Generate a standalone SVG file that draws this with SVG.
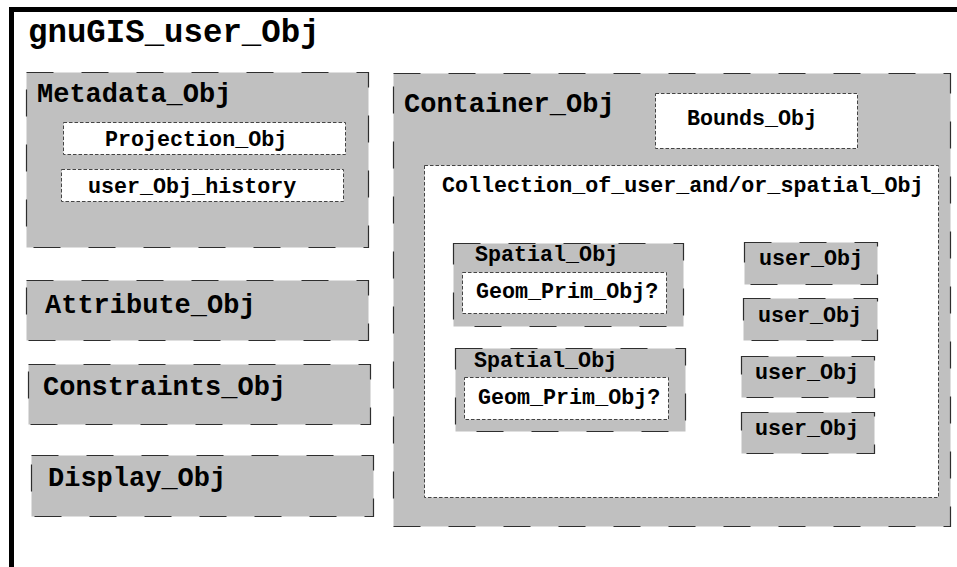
<svg xmlns="http://www.w3.org/2000/svg" width="957" height="567" viewBox="0 0 957 567">
  <style>
    .frame { fill: none; stroke: #000; stroke-width: 5; }
    .gray { fill: #c0c0c0; stroke: #2e2e2e; stroke-width: 1.2; stroke-dasharray: 27 28; }
    .white { fill: #fff; stroke: #444; stroke-width: 1; stroke-dasharray: 3.5 2; }
    text { font-family: "Liberation Mono", "Courier New", monospace; font-weight: bold; fill: #000; }
    .t1 { font-size: 32.4px; }
    .t2 { font-size: 27px; }
    .t3 { font-size: 21.7px; }
  </style>
  <rect width="957" height="567" fill="#fff"/>
  <g id="gnuGIS_user_Obj">
    <rect class="frame" x="11.5" y="9.5" width="1000" height="1000"/>
    <text class="t1" x="28" y="42">gnuGIS_user_Obj</text>
  </g>
  <g id="Metadata_Obj">
    <rect class="gray" x="26.5" y="72.5" width="342" height="175"/>
    <text class="t2" x="37" y="102">Metadata_Obj</text>
  </g>
  <g id="Projection_Obj">
    <rect class="white" x="63.5" y="122.5" width="282" height="32"/>
    <text class="t3" x="105" y="146">Projection_Obj</text>
  </g>
  <g id="user_Obj_history">
    <rect class="white" x="61.5" y="169.5" width="282" height="32"/>
    <text class="t3" x="88" y="193">user_Obj_history</text>
  </g>
  <g id="Attribute_Obj">
    <rect class="gray" x="26.5" y="280.5" width="342" height="60"/>
    <text class="t2" x="45" y="313">Attribute_Obj</text>
  </g>
  <g id="Constraints_Obj">
    <rect class="gray" x="28.5" y="364.5" width="342" height="60"/>
    <text class="t2" x="43" y="395">Constraints_Obj</text>
  </g>
  <g id="Display_Obj">
    <rect class="gray" x="31.5" y="455.5" width="342" height="61"/>
    <text class="t2" x="48" y="486">Display_Obj</text>
  </g>
  <g id="Container_Obj">
    <rect class="gray" x="393.5" y="73.5" width="557" height="453"/>
    <text class="t2" x="404" y="112">Container_Obj</text>
  </g>
  <g id="Bounds_Obj">
    <rect class="white" x="655.5" y="93.5" width="202" height="55"/>
    <text class="t3" x="687" y="125">Bounds_Obj</text>
  </g>
  <g id="Collection_of_user_and_or_spatial_Obj">
    <rect class="white" x="424.5" y="165.5" width="514" height="332"/>
    <text class="t3" x="442" y="192">Collection_of_user_and/or_spatial_Obj</text>
  </g>
  <g id="Spatial_Obj_1">
    <rect class="gray" x="453.5" y="243.5" width="230" height="83"/>
    <text class="t3" x="475" y="261">Spatial_Obj</text>
  </g>
  <g id="Geom_Prim_Obj_1">
    <rect class="white" x="462.5" y="272.5" width="204" height="41"/>
    <text class="t3" x="476" y="298">Geom_Prim_Obj?</text>
  </g>
  <g id="Spatial_Obj_2">
    <rect class="gray" x="455.5" y="348.5" width="230" height="83"/>
    <text class="t3" x="474" y="367">Spatial_Obj</text>
  </g>
  <g id="Geom_Prim_Obj_2">
    <rect class="white" x="464.5" y="377.5" width="204" height="42"/>
    <text class="t3" x="478" y="404">Geom_Prim_Obj?</text>
  </g>
  <g id="user_Obj_1">
    <rect class="gray" x="744.5" y="242.5" width="133" height="42"/>
    <text class="t3" x="759" y="265">user_Obj</text>
  </g>
  <g id="user_Obj_2">
    <rect class="gray" x="743.5" y="298.5" width="134" height="42"/>
    <text class="t3" x="758" y="322">user_Obj</text>
  </g>
  <g id="user_Obj_3">
    <rect class="gray" x="741.5" y="356.5" width="133" height="41"/>
    <text class="t3" x="755" y="379">user_Obj</text>
  </g>
  <g id="user_Obj_4">
    <rect class="gray" x="741.5" y="412.5" width="133" height="41"/>
    <text class="t3" x="755" y="435">user_Obj</text>
  </g>
  <g id="connectors"/>
</svg>
